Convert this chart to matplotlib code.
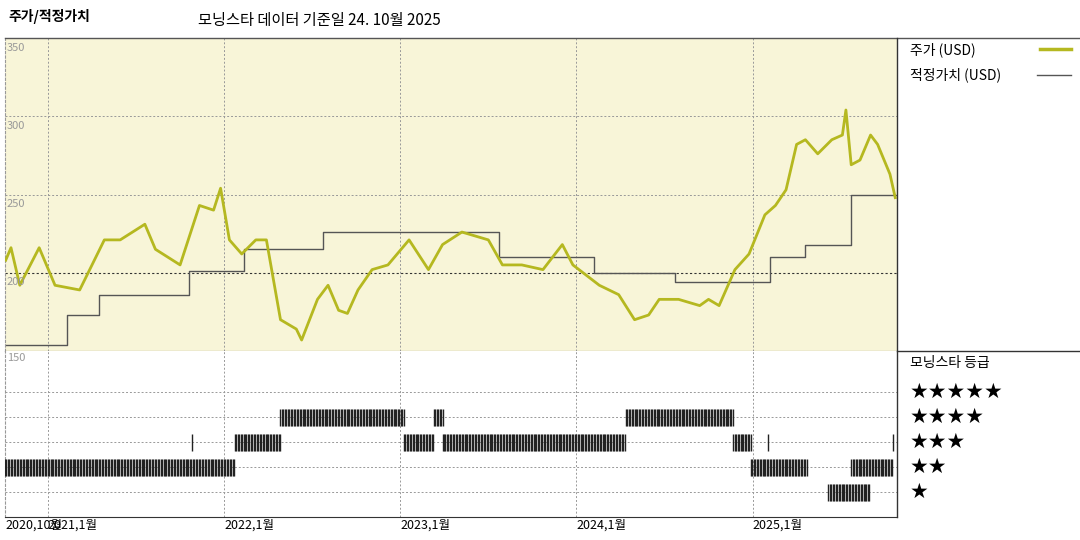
import numpy as np
import matplotlib.pyplot as plt
from matplotlib.lines import Line2D

plt.rcParams['font.family'] = ['Noto Sans CJK KR', 'DejaVu Sans']

# x positions in fractional years
X_START, X_END = 2020.756, 2025.82

PRICE_T = [2020.76, 2020.79, 2020.84, 2020.95, 2021.04, 2021.18, 2021.32, 2021.41, 2021.55,
           2021.61, 2021.75, 2021.86, 2021.94, 2021.98, 2022.03, 2022.10, 2022.18, 2022.24,
           2022.32, 2022.41, 2022.44, 2022.53, 2022.59, 2022.65, 2022.70, 2022.76, 2022.84,
           2022.93, 2023.05, 2023.16, 2023.24, 2023.35, 2023.50, 2023.58, 2023.69, 2023.81,
           2023.92, 2023.98, 2024.13, 2024.24, 2024.33, 2024.41, 2024.47, 2024.58, 2024.70,
           2024.75, 2024.81, 2024.90, 2024.98, 2025.07, 2025.13, 2025.19, 2025.25, 2025.30,
           2025.37, 2025.45, 2025.51, 2025.53, 2025.56, 2025.61, 2025.67, 2025.71, 2025.78,
           2025.81]
PRICE = [208, 216, 192, 216, 192, 189, 221, 221, 231,
         215, 205, 243, 240, 254, 221, 212, 221, 221,
         170, 164, 157, 183, 192, 176, 174, 189, 202,
         205, 221, 202, 218, 226, 221, 205, 205, 202,
         218, 205, 192, 186, 170, 173, 183, 183, 179,
         183, 179, 202, 212, 237, 243, 253, 282, 285,
         276, 285, 288, 304, 269, 272, 288, 282, 263,
         248]

FAIR_T = [2020.756, 2021.11, 2021.29, 2021.80, 2022.11, 2022.56, 2023.56, 2024.10, 2024.56, 2024.99,
          2025.10, 2025.30, 2025.56, 2025.82]
FAIR = [154, 173, 186, 201, 215, 226, 210, 200, 194, 194, 210, 218, 250, 250]

# star rating periods: (start, end) per rating
RATINGS = {
    1: [(2025.43, 2025.67)],
    2: [(2020.756, 2022.06), (2024.99, 2025.31), (2025.56, 2025.80)],
    3: [(2021.82, 2021.826), (2022.06, 2022.32), (2023.02, 2023.19), (2023.24, 2024.28),
        (2024.89, 2024.99), (2025.09, 2025.096), (2025.80, 2025.806)],
    4: [(2022.32, 2023.02), (2023.19, 2023.24), (2024.28, 2024.89)],
}
YEAR_TICKS = [2020.756, 2021.0, 2022.0, 2023.0, 2024.0, 2025.0]
YEAR_LABELS = ['2020,10월', '2021,1월', '2022,1월', '2023,1월', '2024,1월', '2025,1월']

fig = plt.figure(figsize=(10.8, 5.4), dpi=100)
W, H = 1080, 540
ax1 = fig.add_axes([5 / W, (H - 351) / H, 892 / W, 313 / H])
ax2 = fig.add_axes([5 / W, (H - 517) / H, 892 / W, 166 / H])

grid_kw = dict(color='#999999', linestyle=(0, (2, 2)), linewidth=0.7)

# --- price panel
ax1.set_facecolor('#f8f5d8')
ax1.set_xlim(X_START, X_END)
ax1.set_ylim(150, 350)
for yr in YEAR_TICKS[1:]:
    ax1.axvline(yr, **grid_kw, zorder=1)
for v in [300, 250]:
    ax1.axhline(v, **grid_kw, zorder=1)
ax1.axhline(200, color='#333333', linestyle=(0, (2, 2)), linewidth=0.8, zorder=1)
ax1.step(FAIR_T, FAIR, where='post', color='#555555', linewidth=1.0, zorder=2)
ax1.plot(PRICE_T, PRICE, color='#b5b820', linewidth=2.0, zorder=3)
for v in [350, 300, 250, 200]:
    ax1.text(X_START + 0.01, v - 3, str(v), fontsize=8, color='#999999', va='top', ha='left')
ax1.set_xticks([])
ax1.set_yticks([])
for s in ['top', 'right']:
    ax1.spines[s].set_visible(False)
ax1.spines['left'].set_color('#999999')
ax1.spines['left'].set_linestyle((0, (2, 2)))
ax1.spines['bottom'].set_color('#333333')

# --- rating panel
ax2.set_xlim(X_START, X_END)
ax2.set_ylim(0, 6.64)
for yr in YEAR_TICKS[1:]:
    ax2.axvline(yr, **grid_kw, zorder=1)
for r in range(1, 6):
    ax2.axhline(r, **grid_kw, zorder=1)
for r, spans in RATINGS.items():
    for a, b in spans:
        xs = np.arange(a, b + 1e-9, 1 / 120)
        if len(xs) == 1:
            xs = np.array([a])
        ax2.vlines(xs, r - 0.34, r + 0.34, color='#222222', linewidth=1.0, zorder=3)
ax2.text(X_START + 0.01, 6.55, '150', fontsize=8, color='#999999', va='top', ha='left')
ax2.set_yticks([])
ax2.set_xticks(YEAR_TICKS)
ax2.set_xticklabels(YEAR_LABELS, fontsize=9, ha='left')
ax2.tick_params(axis='x', length=0, pad=1)
for s in ['top', 'right']:
    ax2.spines[s].set_visible(False)
ax2.spines['left'].set_color('#999999')
ax2.spines['left'].set_linestyle((0, (2, 2)))
ax2.spines['bottom'].set_color('#333333')

# --- frame lines and right-hand panel
fig.add_artist(Line2D([5 / W, 1], [(H - 38) / H] * 2, color='#555555', linewidth=1))
fig.add_artist(Line2D([897 / W] * 2, [(H - 517) / H, (H - 38) / H], color='#333333', linewidth=1))
fig.add_artist(Line2D([897 / W, 1], [(H - 351) / H] * 2, color='#333333', linewidth=1))

fig.text(8 / W, 1 - 17 / H, '주가/적정가치', fontsize=10, fontweight='bold', va='center')
fig.text(198 / W, 1 - 20 / H, '모닝스타 데이터 기준일 24. 10월 2025', fontsize=11, va='center')

fig.text(910 / W, 1 - 50 / H, '주가 (USD)', fontsize=10, va='center')
fig.add_artist(Line2D([1040 / W, 1071 / W], [1 - 49 / H] * 2, color='#b5b820', linewidth=2.5))
fig.text(910 / W, 1 - 75 / H, '적정가치 (USD)', fontsize=10, va='center')
fig.add_artist(Line2D([1037 / W, 1071 / W], [1 - 75 / H] * 2, color='#555555', linewidth=1))

fig.text(910 / W, 1 - 363 / H, '모닝스타 등급', fontsize=10, va='center')
for r, y in zip([5, 4, 3, 2, 1], [392, 417, 442, 467, 492]):
    fig.text(910 / W, 1 - y / H, '★' * r, fontsize=15, va='center',
             family=['DejaVu Sans'])

fig.savefig('out.png', dpi=100)
